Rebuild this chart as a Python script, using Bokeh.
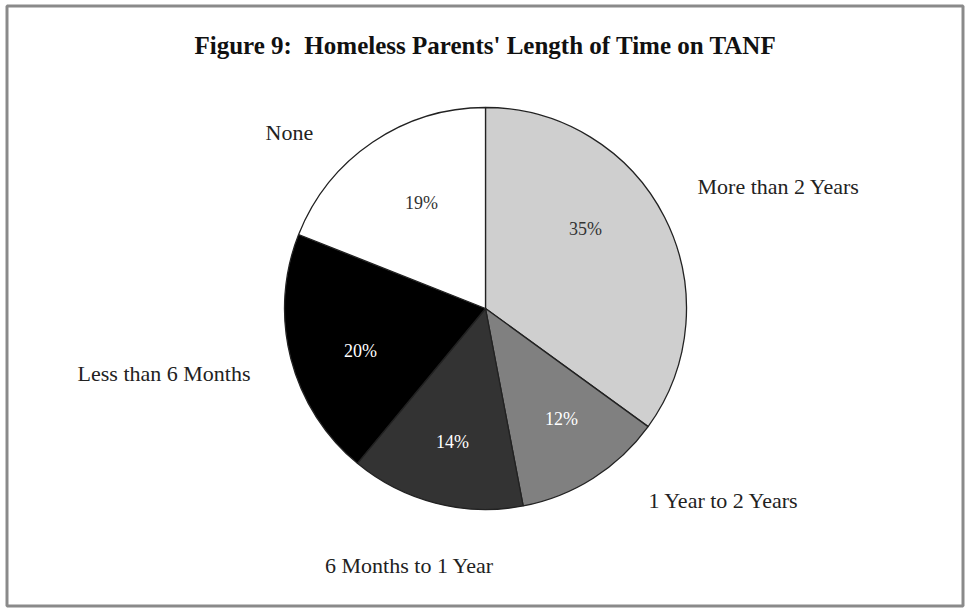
import math
from bokeh.plotting import figure
from bokeh.models import Range1d, ColumnDataSource
from bokeh.core.properties import value
from bokeh.embed import file_html
from bokeh.resources import INLINE

# ---- data ----
categories = ["More than 2 Years", "1 Year to 2 Years", "6 Months to 1 Year",
              "Less than 6 Months", "None"]
percents = [35, 12, 14, 20, 19]
pct_labels = ["35%", "12%", "14%", "20%", "19%"]
colors = ["#cfcfcf", "#808080", "#333333", "#000000", "#ffffff"]
pct_text_colors = ["#333333", "#ffffff", "#ffffff", "#ffffff", "#333333"]
title = "Figure 9:\u00a0 Homeless Parents' Length of Time on TANF"

# ---- layout (pixel coordinates, y measured from top) ----
W, H = 966, 609
CX, CY, R = 485, 308, 201
pct_pos = [(585, 228), (561, 418), (452, 441), (360, 350), (421, 202)]
cat_pos = [(697, 186, "left"), (648, 500, "left"), (409, 565, "center"),
           (250, 373, "right"), (265, 132, "left")]

def fy(y):
    return H - y

total = sum(percents)
starts, ends = [], []
a = math.pi / 2
for v in percents:
    starts.append(a)
    a -= v / total * 2 * math.pi
    ends.append(a)

p = figure(width=W, height=H, x_range=Range1d(0, W), y_range=Range1d(0, H),
           output_backend="svg", toolbar_location=None, min_border=0)
p.axis.visible = False
p.grid.visible = False
p.outline_line_color = None
p.background_fill_color = "white"
p.border_fill_color = "white"

# frame
p.quad(left=[6.5], right=[962.5], bottom=[fy(605.5)], top=[fy(5.5)],
       fill_color=None, line_color="#8a8a8a", line_width=3)

src = ColumnDataSource(dict(start=starts, end=ends, color=colors))
p.wedge(x=CX, y=fy(CY), radius=R, start_angle="start", end_angle="end",
        direction="clock", fill_color="color", line_color="#222222",
        line_width=1.3, source=src)

p.text(x=[x for x, _ in pct_pos], y=[fy(y) for _, y in pct_pos], text=pct_labels,
       text_color=pct_text_colors, text_font=value("Liberation Serif"),
       text_font_size="18px", text_align="center", text_baseline="middle")

for (x, y, al), lab in zip(cat_pos, categories):
    p.text(x=[x], y=[fy(y)], text=[lab], text_color="#222222",
           text_font=value("Liberation Serif"), text_font_size="22px",
           text_align=al, text_baseline="middle")

p.text(x=[485], y=[fy(45)], text=[title], text_color="#111111",
       text_font=value("Liberation Serif"), text_font_size="25px",
       text_font_style="bold", text_align="center", text_baseline="middle")

open("out.html", "w").write(file_html(p, INLINE))
